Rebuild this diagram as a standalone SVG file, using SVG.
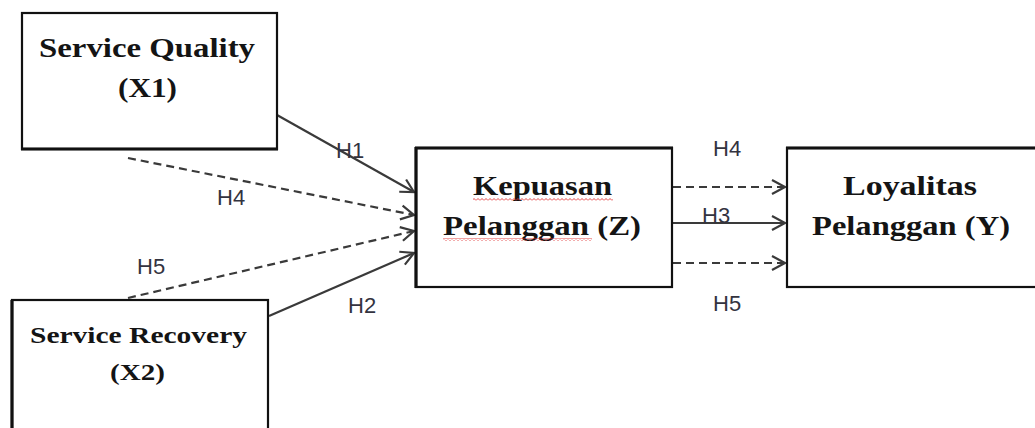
<svg xmlns="http://www.w3.org/2000/svg" width="1035" height="428" viewBox="0 0 1035 428">
  <style>
    .box { fill: #ffffff; stroke: #111111; stroke-width: 2.2; }
    .edge { stroke: #111111; stroke-width: 3.2; }
    .title { font-family: "Liberation Serif", "Times New Roman", serif; font-weight: bold; fill: #141414; }
    .hyp { font-family: "Liberation Sans", Arial, sans-serif; font-size: 22px; fill: #33333f; }
    .link { fill: none; stroke: #3a3a3a; stroke-width: 2.2; }
    .dash { stroke-dasharray: 8 5; }
  </style>
  <defs>
    <marker id="open" markerUnits="userSpaceOnUse" markerWidth="18" markerHeight="18" viewBox="-15 -9 18 18" refX="0" refY="0" orient="auto">
      <path d="M-13,-7 L0,0 L-13,7" fill="none" stroke="#3a3a3a" stroke-width="2.2"/>
    </marker>
    <pattern id="squiggle" patternUnits="userSpaceOnUse" width="4" height="3">
      <path d="M0,2.5 L2,0.5 L4,2.5" fill="none" stroke="#e03030" stroke-width="0.9"/>
    </pattern>
  </defs>

  <!-- connectors -->
  <g id="connectors">
    <line class="link" x1="277" y1="115" x2="414" y2="192" marker-end="url(#open)"/>
    <line class="link dash" x1="128" y1="158" x2="414" y2="215" marker-end="url(#open)"/>
    <line class="link dash" x1="128" y1="298" x2="414" y2="231" marker-end="url(#open)"/>
    <line class="link" x1="269" y1="316" x2="414" y2="253" marker-end="url(#open)"/>
    <line class="link dash" x1="673" y1="187" x2="785" y2="187" marker-end="url(#open)"/>
    <line class="link" x1="673" y1="223" x2="785" y2="223" marker-end="url(#open)"/>
    <line class="link dash" x1="673" y1="263" x2="785" y2="263" marker-end="url(#open)"/>
    <text class="hyp" x="336" y="158">H1</text>
    <text class="hyp" x="217" y="205">H4</text>
    <text class="hyp" x="137" y="274">H5</text>
    <text class="hyp" x="348" y="313">H2</text>
    <text class="hyp" x="713" y="156">H4</text>
    <text class="hyp" x="702" y="223">H3</text>
    <text class="hyp" x="713" y="311">H5</text>
  </g>

  <!-- Service Quality (X1) -->
  <g id="x1">
    <rect class="box" x="22" y="13" width="255" height="136"/>
    <line class="edge" x1="21" y1="149" x2="278" y2="149"/>
    <text class="title" x="39" y="57" font-size="27" textLength="216" lengthAdjust="spacingAndGlyphs">Service Quality</text>
    <text class="title" x="118" y="97" font-size="27" textLength="59" lengthAdjust="spacingAndGlyphs">(X1)</text>
  </g>

  <!-- Service Recovery (X2) -->
  <g id="x2">
    <rect class="box" x="12" y="300" width="256" height="140"/>
    <line class="edge" x1="12" y1="300" x2="12" y2="430"/>
    <text class="title" x="30" y="343" font-size="24" textLength="217" lengthAdjust="spacingAndGlyphs">Service Recovery</text>
    <text class="title" x="110" y="380" font-size="24" textLength="55" lengthAdjust="spacingAndGlyphs">(X2)</text>
  </g>

  <!-- Kepuasan Pelanggan (Z) -->
  <g id="z">
    <rect class="box" x="416" y="148" width="256" height="139"/>
    <line class="edge" x1="416" y1="147" x2="416" y2="288"/>
    <line class="edge" x1="415" y1="148" x2="673" y2="148"/>
    <text class="title" x="473" y="195" font-size="28" textLength="139" lengthAdjust="spacingAndGlyphs">Kepuasan</text>
    <text class="title" x="443" y="235" font-size="28" textLength="198" lengthAdjust="spacingAndGlyphs">Pelanggan (Z)</text>
    <rect x="473" y="198" width="140" height="3" fill="url(#squiggle)"/>
    <rect x="443" y="238" width="149" height="3" fill="url(#squiggle)"/>
  </g>

  <!-- Loyalitas Pelanggan (Y) -->
  <g id="y">
    <rect class="box" x="787" y="148" width="260" height="139"/>
    <line class="edge" x1="786" y1="148" x2="1040" y2="148"/>
    <text class="title" x="843" y="195" font-size="28" textLength="134" lengthAdjust="spacingAndGlyphs">Loyalitas</text>
    <text class="title" x="812" y="235" font-size="28" textLength="198" lengthAdjust="spacingAndGlyphs">Pelanggan (Y)</text>
  </g>
</svg>
